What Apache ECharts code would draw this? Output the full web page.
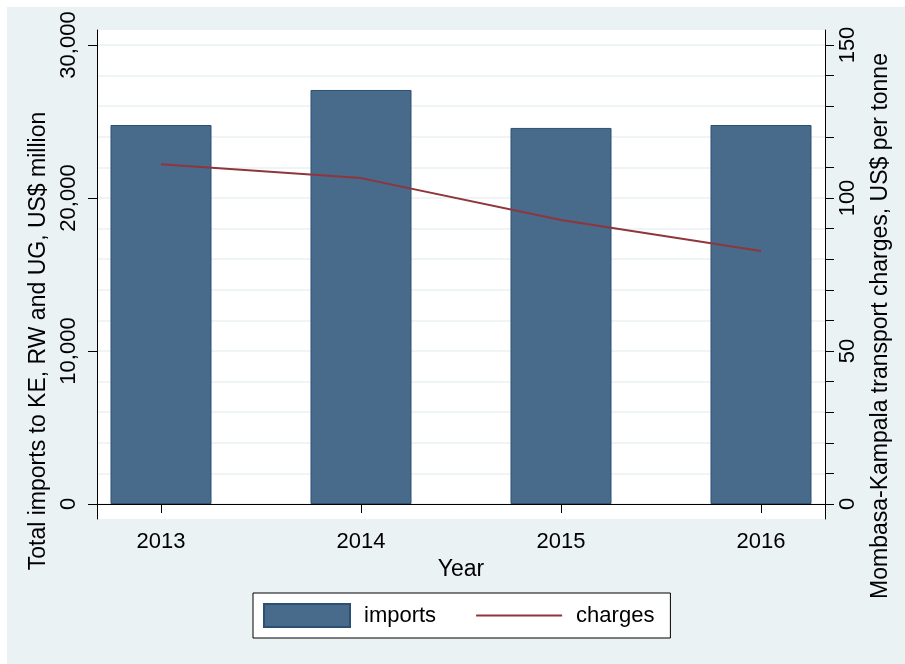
<!DOCTYPE html>
<html>
<head>
<meta charset="utf-8">
<script src="https://cdn.jsdelivr.net/npm/echarts@6/dist/echarts.min.js"></script>
<style>
  html, body { margin: 0; padding: 0; background: #eaf2f3; overflow: hidden; width: 100%; height: 100%; }
  #edge { position: fixed; left: 0; top: 0; right: 0; bottom: 0; border-left: 7px solid #fff; border-top: 7px solid #fff; }
  #chart { position: absolute; left: 7px; top: 7px; width: 898px; height: 657px; }
</style>
</head>
<body>
<div id="edge"></div>
<div id="chart"></div>
<script>
// data
const years = [2013, 2014, 2015, 2016];
const imports = [24770, 27060, 24580, 24770];   // US$ million
const charges = [111.0, 106.5, 92.8, 82.7];     // US$ per tonne

const leftTicks = [0, 10000, 20000, 30000];
const rightTicks = [0, 10, 20, 30, 40, 50, 60, 70, 80, 90, 100, 110, 120, 130, 140, 150];
const rightLabels = [0, 50, 100, 150];

const FONT = '"Liberation Sans", Arial, Helvetica, sans-serif';
const navy = '#486a8b';
const maroon = '#90353b';
const bg = '#eaf2f3';

const withCommas = v => String(Math.round(v)).replace(/\B(?=(\d{3})+(?!\d))/g, ',');

const chart = echarts.init(document.getElementById('chart'), null, {renderer: 'canvas'});

const axisText = {color: '#000', fontSize: 22, fontFamily: FONT};
const titleText = {color: '#000', fontSize: 23, fontFamily: FONT};

chart.setOption({
    backgroundColor: bg,
    animation: false,
    grid: {
        left: 90, top: 23, width: 728, height: 489,
        show: true, backgroundColor: '#fff', borderWidth: 0
    },
    legend: {
        left: 246, top: 586,
        padding: [10, 16, 10, 10],
        itemGap: 39,
        itemWidth: 86, itemHeight: 23,
        backgroundColor: '#fff',
        borderColor: '#000', borderWidth: 1,
        textStyle: {color: '#000', fontSize: 22, fontFamily: FONT, padding: [0, 0, 0, 9]},
        data: [
            {name: 'imports', icon: 'rect'},
            {name: 'charges', itemStyle: {opacity: 0}}
        ]
    },
    xAxis: {
        type: 'value',
        min: 2012.68, max: 2016.32,
        name: 'Year', nameLocation: 'middle', nameGap: 36,
        nameTextStyle: titleText,
        axisLine: {lineStyle: {color: '#000', width: 1}},
        axisTick: {show: true, length: 9, lineStyle: {color: '#000'}, customValues: years},
        axisLabel: Object.assign({margin: 12, customValues: years, formatter: v => String(v)}, axisText),
        splitLine: {show: false}
    },
    yAxis: [
        {
            type: 'value',
            position: 'left',
            min: -980, max: 30980,
            name: 'Total imports to KE, RW and UG, US$ million',
            nameLocation: 'middle', nameRotate: 90, nameGap: 39,
            nameTextStyle: Object.assign({padding: [0, 133, 0, 0]}, titleText),
            axisLine: {show: true, lineStyle: {color: '#000', width: 1}},
            axisTick: {show: true, length: 9, lineStyle: {color: '#000'}, customValues: leftTicks},
            axisLabel: Object.assign({rotate: 90, margin: 17, customValues: leftTicks, formatter: withCommas}, axisText),
            splitLine: {show: false}
        },
        {
            type: 'value',
            position: 'right',
            min: -4.9, max: 154.9,
            name: 'Mombasa-Kampala transport charges, US$ per tonne',
            nameLocation: 'middle', nameRotate: 90, nameGap: 44,
            nameTextStyle: Object.assign({padding: [0, 103, 0, 0]}, titleText),
            axisLine: {show: true, lineStyle: {color: '#000', width: 1}},
            axisTick: {show: true, length: 9, lineStyle: {color: '#000'}, customValues: rightTicks},
            axisLabel: Object.assign({rotate: 90, margin: 12, customValues: rightLabels, formatter: v => String(v)}, axisText),
            splitLine: {show: true, lineStyle: {color: bg, width: 1.6}}
        }
    ],
    series: [
        {
            name: 'imports',
            type: 'bar',
            yAxisIndex: 0,
            barWidth: 101,
            itemStyle: {color: navy, borderColor: '#2b5073', borderWidth: 1},
            data: years.map((y, i) => [y, imports[i]])
        },
        {
            name: 'charges',
            type: 'line',
            yAxisIndex: 1,
            symbol: 'none',
            lineStyle: {color: maroon, width: 2},
            itemStyle: {color: maroon},
            data: years.map((y, i) => [y, charges[i]])
        }
    ]
});
</script>
</body>
</html>
